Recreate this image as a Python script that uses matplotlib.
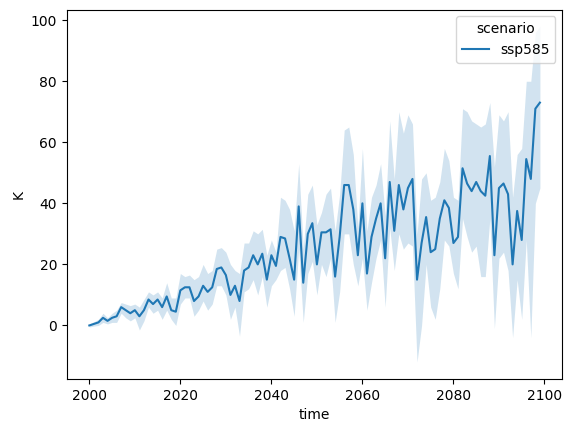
import matplotlib.pyplot as plt
import numpy as np

years = np.arange(2000, 2100)

mean_k = [0, 0.5, 1, 2.5, 1.5, 2.5, 3, 6, 5, 4,
          5, 3, 5, 8.5, 7, 8.5, 6, 9.5, 5, 4.5,
          11.5, 12.5, 12.5, 8, 9.5, 13, 11, 12.5, 18.5, 19,
          16.5, 10, 13, 8, 18, 19, 23, 20, 23.5, 15,
          23, 19.5, 29, 28.5, 22, 15, 39, 14, 30, 33.5,
          20, 30.5, 30.5, 31.5, 16, 29, 46, 46, 38, 23,
          40, 17, 29, 35, 40, 22, 47, 31, 46, 38,
          45, 48, 15, 27, 35.5, 24, 25, 35, 41, 38.5,
          27, 29, 51.5, 46.5, 44, 47, 44, 42.5, 55.5, 23,
          45, 46.5, 43, 20, 37.5, 28, 54.5, 48, 71, 73]

lower_k = [-0.5, -0.2, 0, 1, 0.5, 1, 1, 4, 2.5, 1.5,
           2.5, -1.5, 1.5, 6, 4, 5, 2, 5, 2, 0,
           7, 9, 9, 3, 5, 8, 5, 7, 13, 13,
           10, 2, 6, -3.5, 11, 12, 15, 10, 16, 6,
           13, 15, 18, 19, 12, 3, 25, 1, 17, 21,
           10, 20, 16, 22, 1, 11, 30, 30, 20, 13,
           22, 5, 14, 22, 28, 6, 32, 18, 30, 25,
           27, 26, -12, 0, 20, 6, 2, 12, 28, 26,
           17, 12, 35, 29, 24, 26, 16, 16, 35, -1,
           22, 24, 18, -4, 15, 2, 28, -4, 40, 45]

upper_k = [0.5, 1.2, 2, 4, 2.5, 4, 5, 7.5, 7, 6.5,
           7, 6, 8.5, 11, 10, 11, 9, 14, 9, 9,
           17, 16, 16.5, 15, 16, 20, 17, 18, 25, 25.5,
           24, 20, 18, 17, 27, 27, 31, 30, 31.5, 23,
           28, 24, 42, 41, 38, 31, 53, 25, 43, 46,
           33, 37, 43, 45, 31, 43, 64, 65, 56, 32,
           58, 31, 42, 46, 53, 36, 67, 48, 70, 63,
           69, 66, 30, 48, 50, 41, 42, 47, 58, 54,
           42, 41, 71, 70, 67, 66, 65, 66, 73, 52,
           69, 67, 70, 42, 56, 58, 80, 80, 96, 98]

color = '#1f77b4'
fig, ax = plt.subplots(figsize=(5.71, 4.32), dpi=100)
ax.fill_between(years, lower_k, upper_k, color=color, alpha=0.2, linewidth=0)
ax.plot(years, mean_k, color=color, label='ssp585')
ax.set_xlabel('time')
ax.set_ylabel('K')
ax.set_xticks([2000, 2020, 2040, 2060, 2080, 2100])
ax.legend(title='scenario', loc='upper right')
fig.subplots_adjust(left=0.117, right=0.985, bottom=0.123, top=0.978)
fig.savefig('out.png')
